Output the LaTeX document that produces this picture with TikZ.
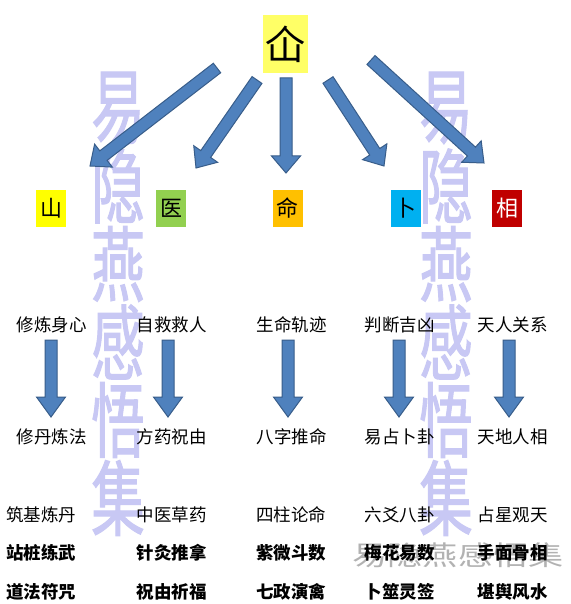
\documentclass[tikz,border=0pt]{standalone}
\usepackage{fontspec}
\newfontfamily\cjk{Noto Sans CJK SC}
\newfontfamily\wmfont[FakeStretch=0.65, FakeBold=1.3]{Noto Sans CJK SC}
\newfontfamily\greyfont[FakeStretch=1.3]{Noto Sans CJK SC}
\usetikzlibrary{calc}
\definecolor{arrowfill}{HTML}{4F81BD}
\definecolor{arrowline}{HTML}{385D8A}
\definecolor{topyellow}{HTML}{FFFF66}
\definecolor{boxyellow}{HTML}{FFFF00}
\definecolor{boxgreen}{HTML}{92D050}
\definecolor{boxorange}{HTML}{FFC000}
\definecolor{boxcyan}{HTML}{00B0F0}
\definecolor{boxred}{HTML}{C00000}
\definecolor{wmark}{RGB}{200,200,244}
\tikzset{
  fatarrow/.style={draw=arrowline, fill=arrowfill, line width=1pt, line join=miter},
  topbox/.style={fill=topyellow, font=\cjk\fontsize{40}{40}\selectfont, minimum width=45pt, minimum height=58pt, inner sep=0pt},
  hbox/.style={font=\cjk\fontsize{22}{22}\selectfont, minimum width=30pt, minimum height=37pt, inner sep=0pt},
  word/.style={font=\cjk\fontsize{17.5}{18}\selectfont, inner sep=0pt},
  boldword/.style={font=\cjk\bfseries\fontsize{17.5}{18}\selectfont, inner sep=0pt},
  wmtext/.style={font=\wmfont\fontsize{82}{82}\selectfont, text=wmark, inner sep=0pt},
  greymark/.style={font=\greyfont\fontsize{27}{27}\selectfont, text=gray!60, inner sep=0pt},
}
% block arrow: tail, tip, half head width, head length
\newcommand{\fatarrow}[4]{%
  \coordinate (fa-b) at ($(#2)!#4pt!(#1)$);
  \path[fatarrow] ($(#1)!6pt!90:(#2)$) -- ($(fa-b)!6pt!90:(#2)$) -- ($(fa-b)!#3pt!90:(#2)$)
    -- (#2) -- ($(fa-b)!#3pt!-90:(#2)$) -- ($(fa-b)!6pt!-90:(#2)$) -- ($(#1)!6pt!-90:(#2)$) -- cycle;
}
\begin{document}
\begin{tikzpicture}[x=1pt,y=-1pt]
\fill[white] (0,0) rectangle (570,604);
\useasboundingbox (0,0) rectangle (570,604);
%watermark
\foreach \x in {118,446}
\foreach \t [count=\j] in {易,隐,燕,感,悟,集}
\node[wmtext] (wm\x-\j) at (\x,30+78*\j) {\t};
\node[greymark] (gm) at (458,555) {易隐燕感悟集};
\node[topbox] (xian) at (285.5,44) {仚};
\foreach \x/\c/\t/\f [count=\i] in {51/boxyellow/山/black, 171/boxgreen/医/black, 287.5/boxorange/命/black, 405.5/boxcyan/卜/black, 507/boxred/相/white} % edit here for the coloured boxes
\node[hbox, fill=\c, text=\f] (b\i) at (\x,208.5) {\t};
\foreach \i/\a/\b/\c/\d in {1/217/68/90/166, 2/257/80/196/168, 3/286/78/286/173, 4/328/80/384/166, 5/371/60/484/163} { % edit here for the top arrows
\coordinate (t\i) at (\a,\b); \coordinate (h\i) at (\c,\d);
\fatarrow{t\i}{h\i}{14.5}{17}
}
\foreach \x [count=\i] in {51,168,288,399,509} { % edit here for the down arrows
\coordinate (dt\i) at (\x,340); \coordinate (dh\i) at (\x,417);
\fatarrow{dt\i}{dh\i}{14.5}{20}
}
\foreach \x/\t [count=\i] in {51.5/修炼身心, 171.5/自救救人, 291.5/生命轨迹, 399.5/判断吉凶, 512.5/天人关系} % edit here for the upper words
\node[word] (up\i) at (\x,325) {\t};
\foreach \x/\t [count=\i] in {51.5/修丹炼法, 171.5/方药祝由, 291.5/八字推命, 399.5/易占卜卦, 512.5/天地人相} % edit here for the lower words
\node[word] (lo\i) at (\x,437) {\t};
\foreach \x/\t [count=\i] in {41/筑基炼丹, 171.5/中医草药, 291/四柱论命, 399.5/六爻八卦, 512.5/占星观天}
\node[word] (ra\i) at (\x,515) {\t};
\foreach \x/\t [count=\i] in {41/站桩练武, 171.5/针灸推拿, 291/紫微斗数, 399.5/梅花易数, 512.5/手面骨相}
\node[boldword] (rb\i) at (\x,553) {\t};
\foreach \x/\t [count=\i] in {41/道法符咒, 171.5/祝由祈福, 291/七政演禽, 399.5/卜筮灵签, 512.5/堪舆风水}
\node[boldword] (rc\i) at (\x,592) {\t};
\end{tikzpicture}
\end{document}
